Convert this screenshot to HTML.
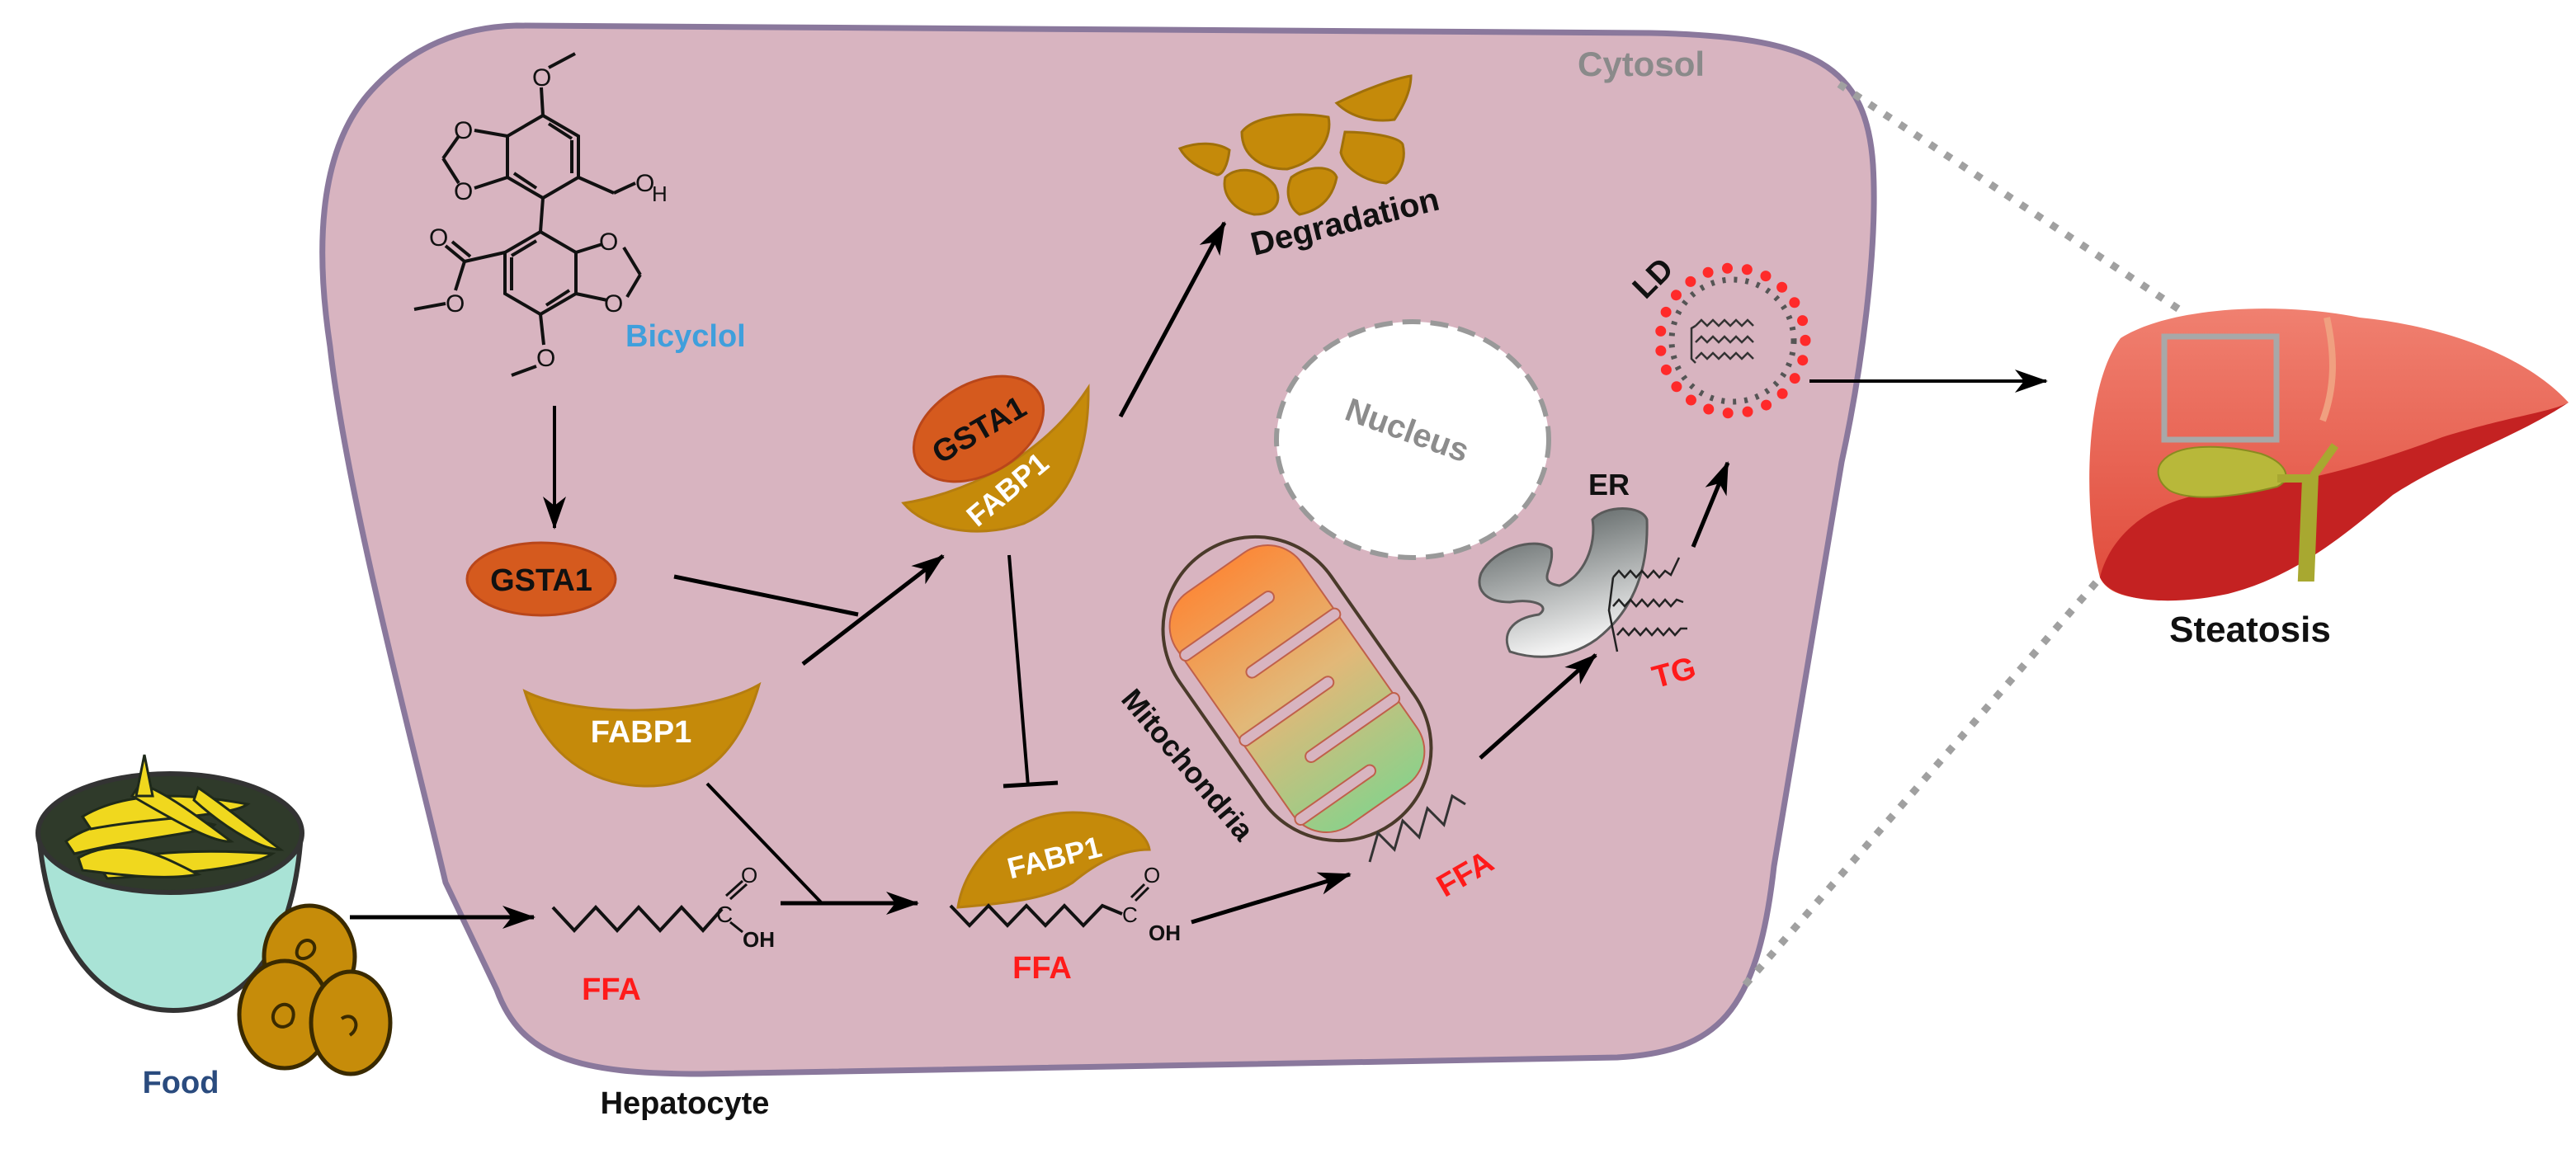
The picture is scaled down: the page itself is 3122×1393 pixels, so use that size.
<!DOCTYPE html>
<html><head><meta charset="utf-8"><style>
html,body{margin:0;padding:0;background:#fff}
svg{display:block}
text{font-family:"Liberation Sans",sans-serif;font-weight:bold}
</style></head><body>
<svg width="3122" height="1393" viewBox="0 0 3122 1393" xmlns="http://www.w3.org/2000/svg">
<defs>
<marker id="ah" viewBox="0 0 40 30" refX="38" refY="15" markerWidth="40" markerHeight="30" orient="auto" markerUnits="userSpaceOnUse">
<path d="M0,1 L40,15 L0,29 L11,15 Z" fill="#000"/>
</marker>
<linearGradient id="mito" x1="0" y1="0" x2="0" y2="1">
<stop offset="0" stop-color="#fb8a3a"/><stop offset="0.5" stop-color="#e2b878"/><stop offset="1" stop-color="#8ed08a"/>
</linearGradient>
<linearGradient id="er" x1="0" y1="0" x2="0.3" y2="1">
<stop offset="0" stop-color="#4a5252"/><stop offset="1" stop-color="#f2f2f2"/>
</linearGradient>
<linearGradient id="liv" x1="0" y1="0" x2="0" y2="1">
<stop offset="0" stop-color="#f08070"/><stop offset="1" stop-color="#e04a3a"/>
</linearGradient>
</defs>

<path d="M626,31 L2000,40 C2200,44 2262,80 2270,200 C2276,300 2256,450 2232,560 L2150,1050 C2130,1230 2080,1275 1960,1282 L850,1302 C700,1302 632,1282 602,1200 L540,1070 C500,900 420,600 400,420 C382,300 386,180 450,110 C500,55 560,33 626,31 Z" fill="#d8b4c0" stroke="#8a789c" stroke-width="7"/>
<text x="1912" y="92" font-size="42" fill="#8a8a8a">Cytosol</text>

<line x1="2229" y1="102" x2="2644" y2="377" stroke="#a0a0a0" stroke-width="9" stroke-dasharray="9 13"/>
<line x1="2115" y1="1194" x2="2544" y2="702" stroke="#a0a0a0" stroke-width="9" stroke-dasharray="9 13"/>

<g stroke="#111" stroke-width="4" fill="none">
<polygon points="658,140 701,165 701,215 658,240 615,215 615,165"/>
<line x1="665" y1="150" x2="693" y2="168"/><line x1="693" y1="170" x2="693" y2="210"/><line x1="623" y1="210" x2="650" y2="228"/>
<line x1="658" y1="140" x2="656" y2="106"/><line x1="665" y1="82" x2="697" y2="65"/>
<line x1="615" y1="165" x2="575" y2="158"/><line x1="615" y1="215" x2="575" y2="228"/>
<line x1="556" y1="165" x2="537" y2="192"/><line x1="537" y1="192" x2="556" y2="222"/>
<line x1="701" y1="215" x2="744" y2="234"/><line x1="744" y1="234" x2="770" y2="222"/>
<line x1="658" y1="240" x2="655" y2="281"/>
<polygon points="655,281 698,306 698,356 655,381 612,356 612,306"/>
<line x1="650" y1="292" x2="620" y2="310"/><line x1="620" y1="312" x2="620" y2="352"/><line x1="690" y1="352" x2="662" y2="370"/>
<line x1="698" y1="306" x2="730" y2="296"/><line x1="698" y1="356" x2="736" y2="364"/>
<line x1="756" y1="300" x2="776" y2="333"/><line x1="776" y1="333" x2="760" y2="360"/>
<line x1="612" y1="306" x2="563" y2="317"/><line x1="563" y1="317" x2="540" y2="298"/><line x1="570" y1="311" x2="548" y2="293"/>
<line x1="563" y1="317" x2="552" y2="352"/><line x1="540" y1="368" x2="502" y2="375"/>
<line x1="655" y1="381" x2="659" y2="418"/><line x1="650" y1="444" x2="620" y2="455"/>
</g>
<g font-size="30" fill="#111" style="font-weight:normal">
<text x="645" y="104" style="font-weight:normal">O</text>
<text x="550" y="168" style="font-weight:normal">O</text>
<text x="550" y="242" style="font-weight:normal">O</text>
<text x="770" y="232" style="font-weight:normal">O</text><text x="790" y="244" font-size="26" style="font-weight:normal">H</text>
<text x="726" y="303" style="font-weight:normal">O</text>
<text x="732" y="378" style="font-weight:normal">O</text>
<text x="520" y="298" style="font-weight:normal">O</text>
<text x="540" y="378" style="font-weight:normal">O</text>
<text x="650" y="444" style="font-weight:normal">O</text>
</g>
<text x="758" y="420" font-size="38" fill="#3f9fdc">Bicyclol</text>

<line x1="672" y1="492" x2="672" y2="640" stroke="#000" stroke-width="4" marker-end="url(#ah)"/>

<ellipse cx="656" cy="702" rx="90" ry="44" fill="#d55a1e" stroke="#b9461a" stroke-width="3"/>
<text x="656" y="716" font-size="38" text-anchor="middle" fill="#111">GSTA1</text>

<path d="M636,838 C700,870 850,870 920,830 C900,900 860,955 780,953 C700,950 655,900 636,838 Z" fill="#c58a0a" stroke="#b57d10" stroke-width="3"/>
<text x="777" y="900" font-size="38" text-anchor="middle" fill="#fff">FABP1</text>

<line x1="817" y1="699" x2="1040" y2="745" stroke="#000" stroke-width="5"/>
<line x1="973" y1="805" x2="1143" y2="674" stroke="#000" stroke-width="5" marker-end="url(#ah)"/>

<path d="M1095,610 C1160,600 1260,560 1319,470 C1320,540 1300,610 1240,635 C1180,655 1120,640 1095,610 Z" fill="#c58a0a" stroke="#b57d10" stroke-width="3"/>
<ellipse cx="1186" cy="520" rx="85" ry="55" transform="rotate(-30 1186 520)" fill="#d55a1e" stroke="#b9461a" stroke-width="3"/>
<text x="1186" y="534" font-size="38" text-anchor="middle" fill="#111" transform="rotate(-30 1186 520)">GSTA1</text>
<text x="1220" y="606" font-size="36" text-anchor="middle" fill="#fff" transform="rotate(-40 1220 592)">FABP1</text>

<line x1="1358" y1="505" x2="1484" y2="270" stroke="#000" stroke-width="5" marker-end="url(#ah)"/>
<g fill="#c58a0a" stroke="#a0700a" stroke-width="3">
<path d="M1430,180 C1450,172 1475,172 1490,182 C1488,200 1482,212 1475,212 C1455,205 1438,195 1430,180 Z"/>
<path d="M1505,160 C1520,140 1570,135 1610,142 C1615,165 1600,195 1560,205 C1530,205 1505,190 1505,160 Z"/>
<path d="M1620,125 C1650,110 1690,95 1710,92 C1710,110 1700,130 1690,145 C1670,148 1640,145 1620,125 Z"/>
<path d="M1485,215 C1500,200 1530,205 1545,225 C1555,245 1545,260 1520,260 C1495,255 1480,235 1485,215 Z"/>
<path d="M1565,215 C1585,200 1615,200 1620,215 C1615,240 1600,255 1575,260 C1560,250 1558,230 1565,215 Z"/>
<path d="M1630,160 C1655,160 1695,165 1700,175 C1705,195 1695,215 1680,222 C1655,220 1630,205 1625,185 Z"/>
</g>
<text x="1520" y="310" font-size="40" fill="#111" transform="rotate(-14 1520 310)">Degradation</text>

<line x1="1223" y1="673" x2="1246" y2="953" stroke="#000" stroke-width="4"/>
<line x1="1216" y1="953" x2="1282" y2="949" stroke="#000" stroke-width="5"/>

<g>
<path d="M47,1010 C60,1170 140,1225 210,1225 C290,1225 355,1160 365,1010 Z" fill="#a9e3d6" stroke="#333" stroke-width="6"/>
<ellipse cx="206" cy="1010" rx="160" ry="72" fill="#2f3a2a" stroke="#333" stroke-width="6"/>
<g stroke="#1f2a1a" stroke-width="3" fill="#f0d81e">
<path d="M80,1020 C120,990 200,985 260,1000 C250,1010 170,1015 90,1035 Z"/>
<path d="M100,990 C150,960 220,960 300,975 C280,990 190,990 110,1005 Z"/>
<path d="M120,1050 C170,1030 260,1030 330,1035 C300,1055 200,1060 130,1065 Z"/>
<path d="M170,950 C200,960 240,990 280,1020 C260,1022 220,1000 160,965 Z"/>
<path d="M240,955 C270,975 300,1000 340,1030 C320,1030 280,1010 235,970 Z"/>
<path d="M175,915 L185,965 L165,965 Z"/>
<path d="M95,1040 C150,1010 200,1040 240,1060 C200,1068 140,1060 100,1055 Z"/>
</g>
</g>
<g stroke="#3a2a00" stroke-width="5" fill="#c68c0a">
<ellipse cx="375" cy="1160" rx="55" ry="62"/>
<ellipse cx="345" cy="1230" rx="55" ry="65"/>
<ellipse cx="425" cy="1240" rx="48" ry="62"/>
</g>
<g fill="none" stroke="#3a2a00" stroke-width="4">
<path d="M363,1145 c10,-12 25,0 15,12 c-10,10 -25,5 -15,-12"/>
<path d="M333,1225 c10,-15 30,-5 20,15 c-12,12 -28,0 -20,-15"/>
<path d="M414,1235 c15,-10 25,10 10,20"/>
</g>
<text x="219" y="1325" font-size="38" text-anchor="middle" fill="#2a4b7e">Food</text>
<text x="830" y="1350" font-size="38" text-anchor="middle" fill="#111">Hepatocyte</text>

<line x1="424" y1="1112" x2="647" y2="1112" stroke="#000" stroke-width="5" marker-end="url(#ah)"/>

<polyline points="670,1100 696,1128 722,1100 748,1128 774,1100 800,1128 826,1100 852,1128 875,1102" fill="none" stroke="#111" stroke-width="4"/>
<text x="868" y="1118" font-size="28" fill="#111" style="font-weight:normal">C</text>
<line x1="885" y1="1090" x2="905" y2="1072" stroke="#111" stroke-width="3"/>
<line x1="880" y1="1086" x2="900" y2="1068" stroke="#111" stroke-width="3"/>
<text x="898" y="1070" font-size="26" fill="#111" style="font-weight:normal">O</text>
<line x1="885" y1="1118" x2="900" y2="1130" stroke="#111" stroke-width="3"/>
<text x="900" y="1148" font-size="26" fill="#111">OH</text>
<text x="741" y="1212" font-size="38" text-anchor="middle" fill="#ff1a1a">FFA</text>

<line x1="857" y1="950" x2="996" y2="1095" stroke="#000" stroke-width="4"/>
<line x1="946" y1="1095" x2="1112" y2="1095" stroke="#000" stroke-width="5" marker-end="url(#ah)"/>

<path d="M1161,1100 C1170,1040 1230,985 1300,985 C1360,985 1390,1010 1393,1030 C1360,1030 1330,1045 1300,1070 C1270,1090 1220,1095 1161,1100 Z" fill="#c58a0a" stroke="#b57d10" stroke-width="3"/>
<text x="1278" y="1052" font-size="36" text-anchor="middle" fill="#fff" transform="rotate(-14 1278 1040)">FABP1</text>
<polyline points="1152,1098 1175,1122 1198,1098 1221,1122 1244,1098 1267,1122 1290,1098 1313,1122 1336,1098 1360,1108" fill="none" stroke="#111" stroke-width="4"/>
<text x="1360" y="1118" font-size="26" fill="#111" style="font-weight:normal">C</text>
<line x1="1376" y1="1092" x2="1392" y2="1076" stroke="#111" stroke-width="3"/>
<line x1="1371" y1="1088" x2="1387" y2="1072" stroke="#111" stroke-width="3"/>
<text x="1386" y="1070" font-size="26" fill="#111" style="font-weight:normal">O</text>
<text x="1392" y="1140" font-size="26" fill="#111">OH</text>
<text x="1263" y="1186" font-size="38" text-anchor="middle" fill="#ff1a1a">FFA</text>

<line x1="1444" y1="1118" x2="1636" y2="1060" stroke="#000" stroke-width="5" marker-end="url(#ah)"/>

<ellipse cx="1712" cy="533" rx="165" ry="143" fill="#fff" stroke="#999" stroke-width="6" stroke-dasharray="22 12"/>
<text x="1705" y="535" font-size="40" text-anchor="middle" fill="#8c8c8c" transform="rotate(20 1705 523)">Nucleus</text>

<g transform="translate(1572,835) rotate(-35)">
<rect x="-112" y="-200" width="224" height="400" rx="112" fill="#d8b4c0" stroke="#4a3a2a" stroke-width="4"/>
<rect x="-92" y="-172" width="184" height="344" rx="50" fill="url(#mito)" stroke="#c0604a" stroke-width="2"/>
<g fill="#d8b4c0" stroke="#c0604a" stroke-width="2">
<rect x="-94" y="-118" width="136" height="14" rx="7"/>
<rect x="-40" y="-55" width="136" height="14" rx="7"/>
<rect x="-94" y="8" width="136" height="14" rx="7"/>
<rect x="-40" y="70" width="136" height="14" rx="7"/>
<rect x="-94" y="125" width="116" height="14" rx="7"/>
</g>
</g>
<text x="1430" y="935" font-size="36" text-anchor="middle" fill="#111" transform="rotate(50 1430 935)">Mitochondria</text>
<polyline points="1660,1045 1670,1010 1690,1030 1700,995 1720,1015 1730,980 1750,1000 1760,965 1776,975" fill="none" stroke="#333" stroke-width="3"/>
<text x="1776" y="1072" font-size="38" text-anchor="middle" fill="#ff1a1a" transform="rotate(-30 1776 1060)">FFA</text>
<line x1="1794" y1="919" x2="1934" y2="794" stroke="#000" stroke-width="5" marker-end="url(#ah)"/>

<path d="M1795,695 C1810,665 1860,650 1880,665 C1885,690 1860,705 1890,710 C1920,700 1935,660 1930,630 C1945,612 1990,612 1996,630 C1998,690 1980,740 1935,775 C1900,800 1860,800 1830,790 C1820,770 1830,750 1865,745 C1880,735 1860,725 1830,730 C1800,730 1788,715 1795,695 Z" fill="url(#er)" stroke="#5a5a5a" stroke-width="3"/>
<text x="1950" y="600" font-size="36" text-anchor="middle" fill="#111">ER</text>
<g fill="none" stroke="#222" stroke-width="2.5">
<polyline points="1955,700 1962,692 1969,700 1976,692 1983,700 1990,692 1997,700 2004,692 2011,700 2018,692 2025,697 2035,676"/>
<polyline points="1955,735 1962,727 1969,735 1976,727 1983,735 1990,727 1997,735 2004,727 2011,735 2018,727 2025,735 2032,727 2040,730"/>
<polyline points="1960,770 1967,762 1974,770 1981,762 1988,770 1995,762 2002,770 2009,762 2016,770 2023,762 2030,770 2037,762 2045,762"/>
<polyline points="1955,700 1950,740 1960,790"/>
</g>
<text x="2029" y="828" font-size="38" text-anchor="middle" fill="#ff1a1a" transform="rotate(-15 2029 816)">TG</text>
<line x1="2052" y1="663" x2="2094" y2="561" stroke="#000" stroke-width="5" marker-end="url(#ah)"/>

<circle cx="2100" cy="413" r="88" fill="none" stroke="#ff2a2a" stroke-width="13" stroke-dasharray="0 24" stroke-linecap="round"/>
<circle cx="2100" cy="413" r="74" fill="none" stroke="#555" stroke-width="7" stroke-dasharray="4 10"/>
<g fill="none" stroke="#333" stroke-width="2.5">
<polyline points="2055,395 2062,388 2069,395 2076,388 2083,395 2090,388 2097,395 2104,388 2111,395 2118,388 2125,395"/>
<polyline points="2055,415 2062,408 2069,415 2076,408 2083,415 2090,408 2097,415 2104,408 2111,415 2118,408 2125,415"/>
<polyline points="2055,435 2062,428 2069,435 2076,428 2083,435 2090,428 2097,435 2104,428 2111,435 2118,428 2125,435"/>
<polyline points="2055,395 2050,398 2050,435 2055,440"/>
</g>
<text x="2003" y="350" font-size="38" text-anchor="middle" fill="#111" transform="rotate(-45 2003 337)">LD</text>
<line x1="2193" y1="462" x2="2480" y2="462" stroke="#000" stroke-width="4" marker-end="url(#ah)"/>

<path d="M2570,410 C2630,372 2760,365 2860,385 C2960,395 3060,430 3113,488 C3080,505 2990,520 2910,560 C2850,600 2790,660 2700,705 C2640,732 2560,735 2545,700 C2525,620 2525,470 2570,410 Z" fill="url(#liv)"/>
<path d="M2545,700 C2560,640 2620,600 2700,595 C2800,585 2880,560 2960,530 C3040,505 3090,500 3113,488 C3050,530 2960,560 2900,600 C2840,650 2780,700 2700,720 C2630,735 2560,730 2545,700 Z" fill="#c42222"/>
<path d="M2820,385 C2830,430 2830,470 2815,510" stroke="#f0a080" stroke-width="8" fill="none"/>
<path d="M2620,560 C2640,535 2700,540 2740,550 C2770,560 2780,580 2760,590 C2720,600 2660,610 2630,595 C2615,585 2612,570 2620,560 Z" fill="#b8b83a" stroke="#8a8a20" stroke-width="2"/>
<path d="M2760,580 L2795,580 L2790,700 L2800,700 L2805,575 L2830,540" stroke="#a8a830" stroke-width="10" fill="none"/>
<rect x="2623" y="408" width="136" height="125" fill="none" stroke="#a8a8a8" stroke-width="7"/>
<text x="2727" y="778" font-size="44" text-anchor="middle" fill="#111">Steatosis</text>
</svg>
</body></html>
